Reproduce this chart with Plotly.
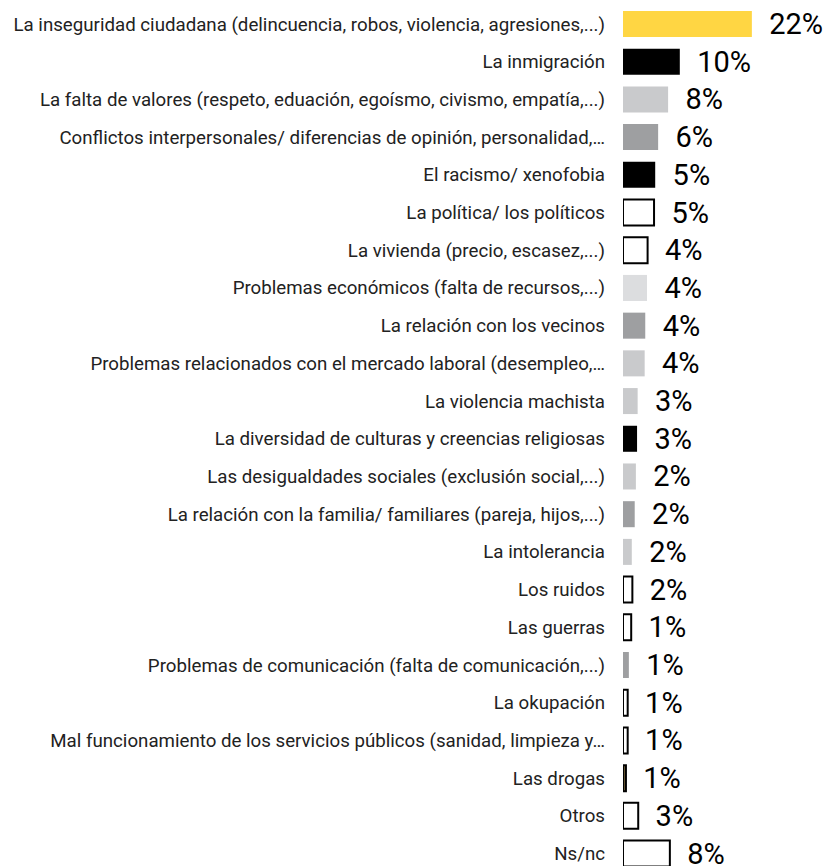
import plotly.graph_objects as go

categories = [
    "La inseguridad ciudadana (delincuencia, robos, violencia, agresiones,...)",
    "La inmigración",
    "La falta de valores (respeto, eduación, egoísmo, civismo, empatía,...)",
    "Conflictos interpersonales/ diferencias de opinión, personalidad,…",
    "El racismo/ xenofobia",
    "La política/ los políticos",
    "La vivienda (precio, escasez,...)",
    "Problemas económicos (falta de recursos,...)",
    "La relación con los vecinos",
    "Problemas relacionados con el mercado laboral (desempleo,…",
    "La violencia machista",
    "La diversidad de culturas y creencias religiosas",
    "Las desigualdades sociales (exclusión social,...)",
    "La relación con la familia/ familiares (pareja, hijos,...)",
    "La intolerancia",
    "Los ruidos",
    "Las guerras",
    "Problemas de comunicación (falta de comunicación,...)",
    "La okupación",
    "Mal funcionamiento de los servicios públicos (sanidad, limpieza y…",
    "Las drogas",
    "Otros",
    "Ns/nc",
]
values = [22.0, 9.7, 7.7, 6.0, 5.5, 5.3, 4.2, 4.1, 3.8, 3.7, 2.5, 2.4, 2.2, 2.0,
          1.5, 1.6, 1.4, 1.0, 0.8, 0.8, 0.5, 2.6, 8.0]
value_labels = ["22%", "10%", "8%", "6%", "5%", "5%", "4%", "4%", "4%", "4%", "3%",
                "3%", "2%", "2%", "2%", "2%", "1%", "1%", "1%", "1%", "1%", "3%", "8%"]
fill_colors = ["#FFD643", "#000000", "#C9CACC", "#9E9FA1", "#000000", "#FFFFFF",
               "#FFFFFF", "#DCDDDF", "#9E9FA1", "#C9CACC", "#C9CACC", "#000000",
               "#C9CACC", "#9E9FA1", "#C9CACC", "#FFFFFF", "#FFFFFF", "#9E9FA1",
               "#FFFFFF", "#FFFFFF", "#6B5A36", "#FFFFFF", "#FFFFFF"]
outlined = [False, False, False, False, False, True, True, False, False, False, False,
            False, False, False, False, True, True, False, True, True, True, True, True]

line_widths = [2 if o else 0 for o in outlined]
pad = "\u00a0\u00a0"

fig = go.Figure(go.Bar(
    x=values,
    y=categories,
    orientation="h",
    marker=dict(color=fill_colors, line=dict(color="#000000", width=line_widths)),
    text=[pad + t for t in value_labels],
    textposition="outside",
    textfont=dict(family="Roboto", size=29, color="#000000"),
    constraintext="none",
    cliponaxis=False,
    hoverinfo="skip",
))

fig.update_layout(
    width=824,
    height=858,
    margin=dict(l=615, r=4, t=0, b=0),
    plot_bgcolor="white",
    paper_bgcolor="white",
    bargap=0.31,
    showlegend=False,
    xaxis=dict(range=[0, 35], visible=False, showgrid=False, zeroline=False),
    yaxis=dict(
        type="category",
        categoryorder="array",
        categoryarray=categories,
        range=[22.33, -0.424],
        showgrid=False,
        zeroline=False,
        showline=False,
        ticks="",
        ticklabelstandoff=17,
        tickfont=dict(family="Roboto", size=18.7, color="#222222"),
    ),
)

fig.write_html("out.html")
